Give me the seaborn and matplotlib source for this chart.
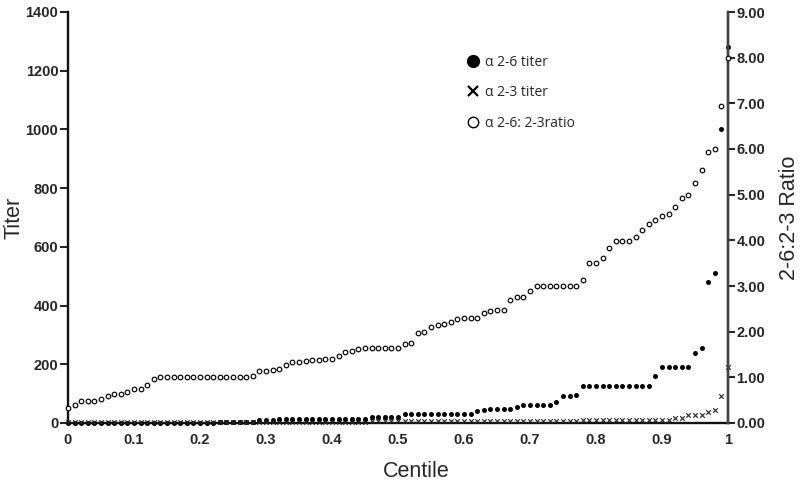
import matplotlib
matplotlib.use("Agg")
import matplotlib.pyplot as plt
from matplotlib.lines import Line2D
from matplotlib.ticker import FormatStrFormatter
import seaborn as sns
import pandas as pd

# centile positions, 0 to 1 in steps of 0.01
centile = [i / 100 for i in range(101)]

# alpha 2-6 titer, sorted (left axis)
titer_26 = [
    1, 1, 1, 1, 1, 1, 1, 1, 1, 1, 1, 1, 1, 1, 1, 1, 1, 1, 1, 1, 1, 1, 1,
    5, 5, 5, 5, 5, 5,
    9, 9, 9,
    14, 14, 14, 14, 14, 14, 14, 14, 14, 14, 14, 14, 14, 14,
    22, 22, 22, 22, 22,
    30,
    32, 32, 32, 32, 32, 32, 32, 32, 32, 32,
    40, 44,
    48, 48, 48, 48,
    56,
    62, 62, 62, 62, 62,
    72, 93, 93, 96,
    127, 127, 127, 127, 127, 127, 127, 127, 127, 127, 127,
    161,
    190, 190, 190, 190, 190,
    240, 254, 480, 512, 1000, 1280,
]

# alpha 2-3 titer, sorted (left axis)
titer_23 = [
    2, 2, 2, 2, 2, 2, 2, 2, 2, 2, 2, 2, 2, 2, 2, 2, 2, 2, 2, 2, 2, 2, 2,
    2, 2, 2, 2, 2, 2, 2, 2, 2, 2, 2, 2, 2, 2, 2, 2, 2, 2, 2, 2, 2, 2, 2,
    6, 6, 6, 6, 6, 6, 6, 6, 6, 6, 6, 6, 6, 6, 6, 6,
    6, 6, 6, 6, 6, 6, 6, 6, 6, 6, 6, 6, 6, 6, 6, 6,
    11, 11, 11, 11, 11, 11, 11, 11, 11, 11, 11, 11, 11, 11,
    17, 17, 28, 28, 28, 36, 45, 91, 192,
]

# 2-6 : 2-3 ratio, sorted (right axis)
ratio = [
    0.33, 0.39, 0.49, 0.49, 0.49, 0.53, 0.60, 0.64, 0.64, 0.68,
    0.75, 0.75, 0.83, 0.96,
    1.00, 1.00, 1.00, 1.00, 1.00, 1.00, 1.00, 1.00, 1.00, 1.00, 1.00, 1.00, 1.00, 1.00,
    1.03, 1.13, 1.13, 1.15, 1.18, 1.28, 1.33, 1.34, 1.35, 1.37,
    1.38, 1.40, 1.40, 1.47, 1.55, 1.58, 1.62,
    1.64, 1.64, 1.64, 1.64, 1.64, 1.64,
    1.73, 1.76, 1.98, 2.00, 2.11, 2.14, 2.17, 2.22, 2.27, 2.31,
    2.31, 2.31, 2.41, 2.46, 2.48, 2.48, 2.70, 2.77, 2.77, 2.89,
    3.00, 3.00, 3.00, 3.00, 3.00, 3.00, 3.00,
    3.14, 3.50, 3.50, 3.62, 3.84, 3.98, 3.98, 3.98, 4.07, 4.23,
    4.35, 4.45, 4.54, 4.57, 4.72, 4.93, 4.99, 5.25, 5.54, 5.94,
    5.99, 6.94, 7.99,
]

x_ticks = [0, 0.1, 0.2, 0.3, 0.4, 0.5, 0.6, 0.7, 0.8, 0.9, 1]
x_tick_labels = ["0", "0.1", "0.2", "0.3", "0.4", "0.5", "0.6", "0.7", "0.8", "0.9", "1"]
legend_labels = ["\u03b1 2-6 titer", "\u03b1 2-3 titer", "\u03b1 2-6: 2-3ratio"]

df = pd.DataFrame({"centile": centile, "t26": titer_26, "t23": titer_23, "ratio": ratio})

sns.set_style("ticks")
plt.rcParams["font.family"] = ["Liberation Sans", "DejaVu Sans"]

fig = plt.figure(figsize=(8, 4.84), dpi=100)
ax = fig.add_axes([68 / 800, 61 / 484, 660 / 800, 411 / 484])
ax2 = ax.twinx()

# left axis: titers
sns.scatterplot(data=df, x="centile", y="t26", ax=ax, color="black", marker="o",
                s=13, linewidth=0, clip_on=False, zorder=3)
sns.scatterplot(data=df, x="centile", y="t23", ax=ax, color="#222222", marker="x",
                s=11, linewidth=0.8, clip_on=False, zorder=3)

# right axis: ratio
sns.scatterplot(data=df, x="centile", y="ratio", ax=ax2, marker="o", s=11,
                facecolor="white", edgecolor="black", linewidth=0.85, clip_on=False, zorder=3)

ax.set_xlim(0, 1)
ax.set_ylim(0, 1400)
ax2.set_ylim(0, 9)

ax.set_xticks(x_ticks)
ax.set_xticklabels(x_tick_labels)
ax.set_yticks(range(0, 1401, 200))
ax2.set_yticks(range(0, 10))
ax2.yaxis.set_major_formatter(FormatStrFormatter("%.2f"))

for a in (ax, ax2):
    a.spines["top"].set_visible(False)
    for sp in a.spines.values():
        sp.set_linewidth(1.7)
        sp.set_color("#111111")
ax2.spines["left"].set_visible(False)
ax2.spines["bottom"].set_visible(False)
ax2.spines["right"].set_color("#444444")

ax.tick_params(axis="x", length=0, pad=7, labelsize=10.5)
ax.tick_params(axis="y", length=6, width=1.5, pad=1, labelsize=10.5)
ax2.tick_params(axis="y", length=5, width=1.5, pad=1, labelsize=10.5)
for lab in ax.get_xticklabels() + ax.get_yticklabels() + ax2.get_yticklabels():
    lab.set_fontweight("bold")

ax.set_xlabel("Centile", fontsize=15.5)
ax.set_ylabel("Titer", fontsize=15.5)
ax2.set_ylabel("2-6:2-3 Ratio", fontsize=15.5)
ax.xaxis.set_label_coords(0.527, -0.093)
ax.yaxis.set_label_coords(-0.066, 0.5)
ax2.yaxis.set_label_coords(1.078, 0.5)

handles = [
    Line2D([], [], linestyle="none", marker="o", markersize=8.5, color="black"),
    Line2D([], [], linestyle="none", marker="x", markersize=6.5, markeredgewidth=1.6, color="black"),
    Line2D([], [], linestyle="none", marker="o", markersize=7.5, markerfacecolor="white",
           markeredgecolor="black", markeredgewidth=1.0),
]
ax2.legend(handles, legend_labels, loc="upper left", bbox_to_anchor=(0.593, 0.913),
           frameon=False, borderpad=0, handlelength=1.0, handletextpad=0.35,
           labelspacing=1.12, prop={"family": ["Open Sans", "DejaVu Sans"], "size": 10})

fig.savefig("out.png", dpi=100, facecolor="white")
